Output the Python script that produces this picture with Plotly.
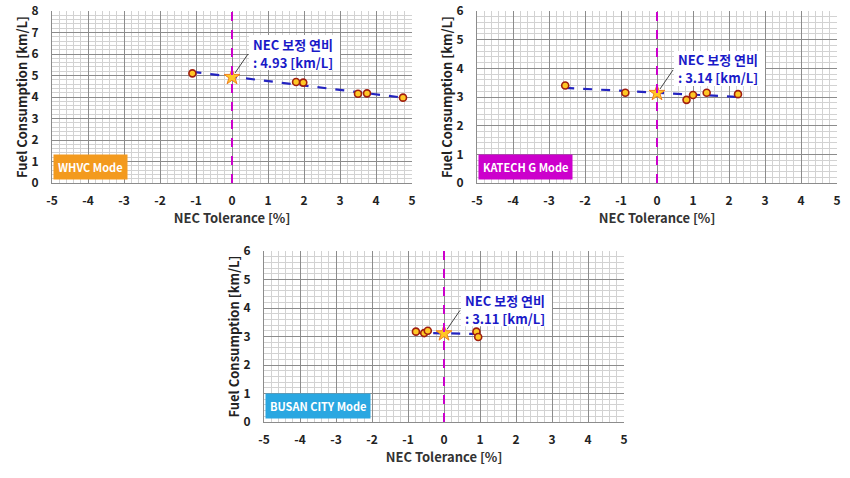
import plotly.graph_objects as go

# ---------------- data ----------------
whvc_x = [-1.1, 1.78, 1.98, 3.5, 3.75, 4.75]
whvc_y = [5.1, 4.7, 4.67, 4.15, 4.17, 3.97]
whvc_trend_x = [-1.1, 4.75]
whvc_trend_y = [5.17, 3.97]
whvc_nec = 4.93

katech_x = [-2.55, -0.88, 0.82, 1.0, 1.38, 2.25]
katech_y = [3.4, 3.15, 2.9, 3.07, 3.15, 3.1]
katech_trend_x = [-2.55, 2.25]
katech_trend_y = [3.32, 3.0]
katech_nec = 3.14

busan_x = [-0.78, -0.55, -0.45, 0.9, 0.95]
busan_y = [3.17, 3.12, 3.2, 3.17, 2.98]
busan_trend_x = [-0.8, 0.95]
busan_trend_y = [3.13, 3.09]
busan_nec = 3.11

x_ticks = [-5, -4, -3, -2, -1, 0, 1, 2, 3, 4, 5]
x_tick_labels = ["-5", "-4", "-3", "-2", "-1", "0", "1", "2", "3", "4", "5"]

panels = [
    dict(name="WHVC Mode", color="#F39A1E", x=whvc_x, y=whvc_y, tx=whvc_trend_x, ty=whvc_trend_y,
         nec=whvc_nec, ymax=8),
    dict(name="KATECH G Mode", color="#CC00CC", x=katech_x, y=katech_y, tx=katech_trend_x, ty=katech_trend_y,
         nec=katech_nec, ymax=6),
    dict(name="BUSAN CITY Mode", color="#2AA7E1", x=busan_x, y=busan_y, tx=busan_trend_x, ty=busan_trend_y,
         nec=busan_nec, ymax=6),
]

W, H = 850, 478
# plot-area pixel boxes (left, top, right, bottom)
boxes = [(52, 11, 412, 183), (477, 11, 837, 183), (264, 251, 624, 422)]

FONT = "Noto Sans CJK KR"
fig = go.Figure()
layout = dict(width=W, height=H, margin=dict(l=0, r=0, t=0, b=0, autoexpand=False),
              paper_bgcolor="white", plot_bgcolor="white", showlegend=False,
              font=dict(family=FONT, color="#222222"))
annotations = []
shapes = []

for i, (p, b) in enumerate(zip(panels, boxes)):
    n = i + 1
    xa = "x" if n == 1 else f"x{n}"
    ya = "y" if n == 1 else f"y{n}"
    xkey = "xaxis" if n == 1 else f"xaxis{n}"
    ykey = "yaxis" if n == 1 else f"yaxis{n}"
    l, t, r, bt = b
    yticks = list(range(0, p["ymax"] + 1))
    layout[xkey] = dict(
        domain=[l / W, r / W], anchor=ya, range=[-5, 5],
        tickvals=x_ticks, ticktext=x_tick_labels, automargin=False,
        showgrid=True, gridcolor="#8c8c8c", gridwidth=1,
        minor=dict(dtick=0.2, showgrid=True, gridcolor="#d2d2d2", gridwidth=1),
        zeroline=False, showline=True, linecolor="#8c8c8c", ticks="",
        ticklabelstandoff=7,
        tickfont=dict(size=12, family=FONT, color="#222222", weight="bold"),
        title=dict(text="<b>NEC Tolerance [%]</b>", font=dict(size=13, family=FONT, color="#333333"),
                   standoff=6),
    )
    layout[ykey] = dict(
        domain=[1 - bt / H, 1 - t / H], anchor=xa, range=[0, p["ymax"]],
        tickvals=yticks, ticktext=[str(v) for v in yticks], automargin=False,
        showgrid=True, gridcolor="#8c8c8c", gridwidth=1,
        minor=dict(dtick=0.2, showgrid=True, gridcolor="#d2d2d2", gridwidth=1),
        zeroline=False, showline=True, linecolor="#8c8c8c", ticks="",
        ticklabelstandoff=10,
        tickfont=dict(size=12, family=FONT, color="#222222", weight="bold"),
        title=dict(text="<b>Fuel Consumption [km/L]</b>", font=dict(size=13, family=FONT, color="#222222"),
                   standoff=0),
    )
    # vertical dashed magenta line at x=0
    shapes.append(dict(type="line", xref=xa, yref=f"{ya} domain", x0=0, x1=0, y0=0, y1=1,
                       line=dict(color="#CC00CC", width=2, dash="dash")))
    # trend line
    fig.add_trace(go.Scatter(x=p["tx"], y=p["ty"], xaxis=xa, yaxis=ya, mode="lines",
                             line=dict(color="#2424C0", width=2.2, dash="dash"), hoverinfo="skip"))
    # data points
    fig.add_trace(go.Scatter(x=p["x"], y=p["y"], xaxis=xa, yaxis=ya, mode="markers",
                             marker=dict(size=7, color="#FFC825", line=dict(color="#A01E10", width=1.6))))
    # NEC star
    fig.add_trace(go.Scatter(x=[0], y=[p["nec"]], xaxis=xa, yaxis=ya, mode="markers",
                             marker=dict(symbol="star", size=12, color="#FFC825",
                                         line=dict(color="#F08020", width=1))))
    # callout white box (pixel offsets from the star)
    shapes.append(dict(type="rect", xref=xa, yref=ya,
                       xsizemode="pixel", xanchor=0, x0=17, x1=108,
                       ysizemode="pixel", yanchor=p["nec"], y0=7, y1=42,
                       fillcolor="white", line=dict(width=0)))
    # callout leader line
    shapes.append(dict(type="line", xref=xa, yref=ya,
                       xsizemode="pixel", xanchor=0, x0=3, x1=16,
                       ysizemode="pixel", yanchor=p["nec"], y0=4, y1=23,
                       line=dict(color="#444444", width=1)))
    # callout text (two lines)
    for txt, ys in ((f"<b>NEC 보정 연비</b>", 33), (f"<b>: {p['nec']:.2f} [km/L]</b>", 15)):
        annotations.append(dict(
            x=0, y=p["nec"], xref=xa, yref=ya, text=txt, showarrow=False,
            font=dict(size=13, family=FONT, color="#1A1AC8"), align="left",
            borderpad=0, xanchor="left", yanchor="middle",
            xshift=20, yshift=ys,
        ))
    # mode label box
    annotations.append(dict(
        x=0.003, y=0.015, xref=f"{xa} domain", yref=f"{ya} domain",
        text=f"<b>{p['name']}</b>", showarrow=False,
        font=dict(size=11, family=FONT, color="white"),
        bgcolor=p["color"], borderpad=4, xanchor="left", yanchor="bottom",
    ))

layout["annotations"] = annotations
layout["shapes"] = shapes
fig.update_layout(**layout)
fig.write_html("out.html", config={"displayModeBar": False},
               post_script="document.body.style.margin='0';")
